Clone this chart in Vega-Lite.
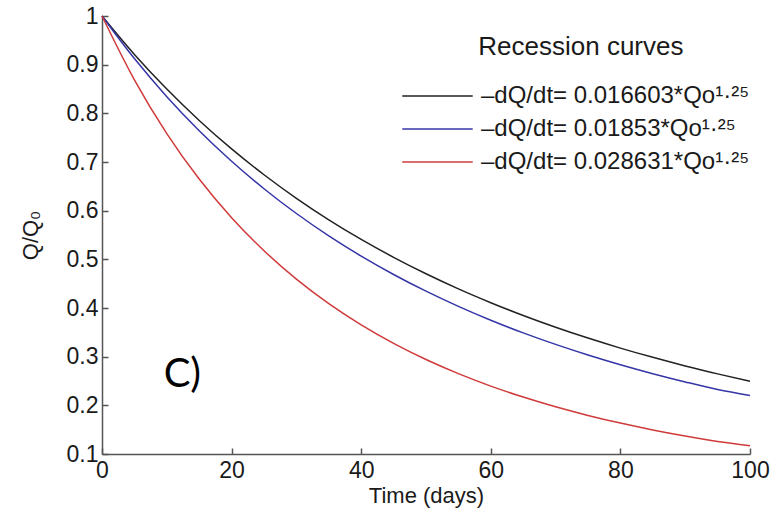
{
  "$schema": "https://vega.github.io/schema/vega-lite/v6.json",
  "width": 648,
  "height": 438,
  "autosize": {"type": "none"},
  "padding": {"left": 102, "top": 16, "right": 25, "bottom": 56},
  "background": "white",
  "config": {
    "view": {"stroke": null},
    "font": "Liberation Sans",
    "axis": {
      "grid": false,
      "domainColor": "#555555",
      "domainWidth": 1.5,
      "tickColor": "#555555",
      "tickWidth": 1.5,
      "tickSize": -6,
      "labelFont": "Liberation Sans",
      "labelFontSize": 23,
      "labelColor": "#1a1a1a",
      "titleFont": "Liberation Sans",
      "titleFontSize": 22,
      "titleFontWeight": "normal",
      "titleColor": "#1a1a1a"
    }
  },
  "datasets": {
    "curves": [
      {"t": 0, "q": 1.0, "s": "A"}, {"t": 5, "q": 0.9211, "s": "A"}, {"t": 10, "q": 0.8499, "s": "A"}, {"t": 15, "q": 0.7854, "s": "A"}, {"t": 20, "q": 0.7269, "s": "A"}, {"t": 25, "q": 0.6738, "s": "A"}, {"t": 30, "q": 0.6254, "s": "A"}, {"t": 35, "q": 0.5812, "s": "A"}, {"t": 40, "q": 0.5409, "s": "A"}, {"t": 45, "q": 0.5041, "s": "A"}, {"t": 50, "q": 0.4703, "s": "A"}, {"t": 55, "q": 0.4393, "s": "A"}, {"t": 60, "q": 0.4109, "s": "A"}, {"t": 65, "q": 0.3846, "s": "A"}, {"t": 70, "q": 0.3605, "s": "A"}, {"t": 75, "q": 0.3382, "s": "A"}, {"t": 80, "q": 0.3176, "s": "A"}, {"t": 85, "q": 0.2986, "s": "A"}, {"t": 90, "q": 0.2809, "s": "A"}, {"t": 95, "q": 0.2646, "s": "A"}, {"t": 100, "q": 0.2494, "s": "A"},
      {"t": 0, "q": 1.0, "s": "B"}, {"t": 5, "q": 0.9125, "s": "B"}, {"t": 10, "q": 0.8343, "s": "B"}, {"t": 15, "q": 0.7644, "s": "B"}, {"t": 20, "q": 0.7016, "s": "B"}, {"t": 25, "q": 0.6451, "s": "B"}, {"t": 30, "q": 0.5942, "s": "B"}, {"t": 35, "q": 0.5482, "s": "B"}, {"t": 40, "q": 0.5066, "s": "B"}, {"t": 45, "q": 0.4689, "s": "B"}, {"t": 50, "q": 0.4346, "s": "B"}, {"t": 55, "q": 0.4034, "s": "B"}, {"t": 60, "q": 0.3749, "s": "B"}, {"t": 65, "q": 0.3489, "s": "B"}, {"t": 70, "q": 0.3252, "s": "B"}, {"t": 75, "q": 0.3034, "s": "B"}, {"t": 80, "q": 0.2834, "s": "B"}, {"t": 85, "q": 0.2650, "s": "B"}, {"t": 90, "q": 0.2481, "s": "B"}, {"t": 95, "q": 0.2325, "s": "B"}, {"t": 100, "q": 0.2202, "s": "B"},
      {"t": 0, "q": 1.0, "s": "C"}, {"t": 5, "q": 0.8688, "s": "C"}, {"t": 10, "q": 0.7584, "s": "C"}, {"t": 15, "q": 0.6650, "s": "C"}, {"t": 20, "q": 0.5856, "s": "C"}, {"t": 25, "q": 0.5177, "s": "C"}, {"t": 30, "q": 0.4593, "s": "C"}, {"t": 35, "q": 0.4089, "s": "C"}, {"t": 40, "q": 0.3653, "s": "C"}, {"t": 45, "q": 0.3273, "s": "C"}, {"t": 50, "q": 0.2941, "s": "C"}, {"t": 55, "q": 0.2651, "s": "C"}, {"t": 60, "q": 0.2395, "s": "C"}, {"t": 65, "q": 0.2170, "s": "C"}, {"t": 70, "q": 0.1970, "s": "C"}, {"t": 75, "q": 0.1793, "s": "C"}, {"t": 80, "q": 0.1635, "s": "C"}, {"t": 85, "q": 0.1494, "s": "C"}, {"t": 90, "q": 0.1368, "s": "C"}, {"t": 95, "q": 0.1256, "s": "C"}, {"t": 100, "q": 0.1170, "s": "C"}
    ],
    "note": [{"label": "C)", "t": 12.4, "q": 0.262}],
    "heading": [{"label": "Recession curves", "t": 73.9, "q": 0.936}]
  },
  "layer": [
    {
      "data": {"name": "curves"},
      "mark": {"type": "line", "strokeWidth": 1.5, "interpolate": "monotone"},
      "encoding": {
        "x": {
          "field": "t", "type": "quantitative",
          "scale": {"domain": [0, 100], "nice": false},
          "axis": {"title": "Time (days)", "values": [0, 20, 40, 60, 80, 100], "labelPadding": 11, "titlePadding": 3, "labelFlush": false}
        },
        "y": {
          "field": "q", "type": "quantitative",
          "scale": {"domain": [0.1, 1], "nice": false, "zero": false},
          "axis": {"title": "Q/Q₀", "values": [0.1, 0.2, 0.3, 0.4, 0.5, 0.6, 0.7, 0.8, 0.9, 1], "format": ".1~f", "labelPadding": 10, "titlePadding": 24, "labelFlush": false}
        },
        "color": {
          "field": "s", "type": "nominal",
          "scale": {"domain": ["A", "B", "C"], "range": ["#222222", "#3535a8", "#d03a3a"]},
          "legend": {
            "title": null,
            "orient": "none",
            "legendX": 352,
            "legendY": 68,
            "padding": 0,
            "labelFont": "Liberation Sans",
            "labelFontSize": 24,
            "labelColor": "#1a1a1a",
            "labelOffset": 3,
            "labelLimit": 500,
            "symbolType": "M-9.5,0H1",
            "symbolSize": 180,
            "symbolStrokeWidth": 1.5,
            "rowPadding": 9,
            "labelExpr": "datum.value == 'A' ? '–dQ/dt= 0.016603*Qo¹·²⁵' : datum.value == 'B' ? '–dQ/dt= 0.01853*Qo¹·²⁵' : '–dQ/dt= 0.028631*Qo¹·²⁵'"
          }
        }
      }
    },
    {
      "data": {"name": "heading"},
      "mark": {"type": "text", "font": "Liberation Sans", "fontSize": 26, "color": "#1a1a1a", "align": "center", "baseline": "middle"},
      "encoding": {
        "x": {"field": "t", "type": "quantitative"},
        "y": {"field": "q", "type": "quantitative"},
        "text": {"field": "label"}
      }
    },
    {
      "data": {"name": "note"},
      "mark": {"type": "text", "font": "Lato", "fontSize": 40, "color": "#000000", "align": "center", "baseline": "middle"},
      "encoding": {
        "x": {"field": "t", "type": "quantitative"},
        "y": {"field": "q", "type": "quantitative"},
        "text": {"field": "label"}
      }
    }
  ]
}
